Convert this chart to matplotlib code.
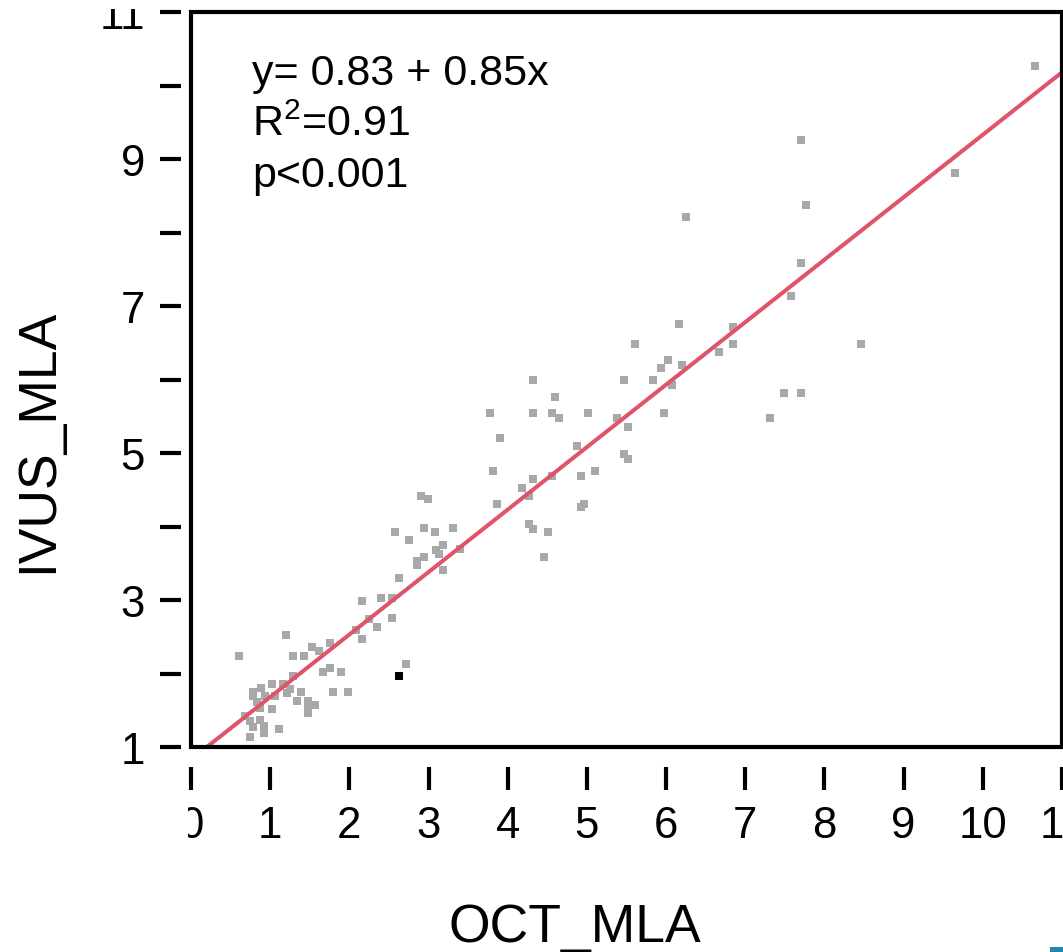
import numpy as np
import matplotlib
matplotlib.use('Agg')
import matplotlib.pyplot as plt
from matplotlib.patches import Rectangle
from matplotlib.transforms import Bbox, TransformedBbox

###############################################################################
# Data
###############################################################################
OCT_MLA = [
    0.61, 1.20, 1.29, 1.43, 1.53, 1.62, 1.76, 2.08, 2.16, 1.67,
    1.76, 1.89, 1.29, 1.02, 1.16, 0.88, 0.78, 1.25, 1.21, 1.06,
    1.39, 1.79, 1.98, 0.78, 0.93, 1.34, 1.48, 1.57, 1.48, 1.48,
    0.83, 0.87, 1.02, 0.68, 0.74, 0.87, 0.78, 0.92, 0.92, 1.11,
    0.74, 2.63, 2.71, 2.25, 2.35, 2.40, 2.54, 2.16, 2.54, 2.85,
    2.85, 2.94, 3.09, 3.13, 3.18, 3.40, 2.90, 2.99, 2.58, 2.94,
    3.08, 3.31, 2.75, 3.18, 3.78, 3.90, 3.81, 3.86, 4.32, 4.60,
    4.32, 4.56, 4.65, 5.01, 5.47, 6.02, 5.93, 6.20, 5.83, 6.07,
    5.97, 5.38, 5.52, 4.87, 5.47, 5.52, 4.32, 4.56, 4.92, 5.10,
    4.18, 4.27, 4.92, 4.96, 4.27, 4.32, 4.51, 4.46, 7.77, 6.25,
    7.71, 7.58, 6.16, 5.61, 6.84, 6.84, 6.67, 8.46, 7.49, 7.71,
    7.31, 10.66, 7.70, 9.65,
]
IVUS_MLA = [
    2.24, 2.53, 2.24, 2.24, 2.36, 2.31, 2.42, 2.59, 2.47, 2.02,
    2.08, 2.02, 1.97, 1.86, 1.86, 1.80, 1.75, 1.79, 1.74, 1.70,
    1.75, 1.75, 1.75, 1.70, 1.70, 1.63, 1.63, 1.57, 1.54, 1.46,
    1.61, 1.53, 1.52, 1.42, 1.35, 1.37, 1.27, 1.29, 1.19, 1.25,
    1.14, 3.30, 2.13, 2.74, 2.63, 3.03, 3.03, 2.98, 2.76, 3.53,
    3.47, 3.59, 3.68, 3.63, 3.41, 3.70, 4.42, 4.37, 3.93, 3.98,
    3.93, 3.98, 3.81, 3.75, 5.54, 5.20, 4.75, 4.31, 5.99, 5.76,
    5.54, 5.54, 5.48, 5.54, 5.99, 6.26, 6.15, 6.20, 5.99, 5.92,
    5.54, 5.48, 5.36, 5.09, 4.98, 4.92, 4.64, 4.69, 4.69, 4.75,
    4.53, 4.42, 4.26, 4.31, 4.04, 3.97, 3.92, 3.59, 8.37, 8.21,
    7.59, 7.14, 6.76, 6.48, 6.71, 6.48, 6.37, 6.48, 5.81, 5.81,
    5.48, 10.26, 9.26, 8.81,
]
# highlighted case (black square)
HIGHLIGHT_X = [2.63]
HIGHLIGHT_Y = [1.97]

INTERCEPT, SLOPE = 0.83, 0.85
ANNOT = ['y= 0.83 + 0.85x', 'R$^{2}$=0.91', 'p<0.001']
X_TICKS = list(range(0, 12))
Y_TICKS = list(range(1, 12))
Y_TICKLABELS = [str(v) if v % 2 == 1 else '' for v in Y_TICKS]

###############################################################################
# Style
###############################################################################
plt.rcParams['font.family'] = ['Liberation Sans', 'DejaVu Sans']
plt.rcParams['mathtext.fontset'] = 'custom'
plt.rcParams['mathtext.rm'] = 'Liberation Sans'
plt.rcParams['mathtext.it'] = 'Liberation Sans'
(W, H) = (1063, 953)
GREY = '#A8A8A8'
RED = '#DF536B'
TICK_FS = 31.5

###############################################################################
# Figure
###############################################################################
fig = plt.figure(figsize=(W/100, H/100), dpi=100)
ax = fig.add_axes([191/W, 1-748/H, (1062-191)/W, (748-13)/H])
ax.set_xlim(0, 11)
ax.set_ylim(1, 11)

# detached R-style axes ------------------------------------------------------
for side in ('top', 'right'):
    ax.spines[side].set_visible(False)
ax.spines['left'].set_position(('outward', 7.2))
ax.spines['bottom'].set_position(('outward', 14.4))
for side in ('left', 'bottom'):
    ax.spines[side].set_color('none')
ax.add_patch(Rectangle((0, 0), 1, 1, transform=ax.transAxes, fill=False,
                       edgecolor='black', linewidth=3, clip_on=False,
                       zorder=5))

ax.set_xticks(X_TICKS)
ax.set_xticklabels([str(v) for v in X_TICKS])
ax.set_yticks(Y_TICKS)
ax.set_yticklabels(Y_TICKLABELS)
ax.tick_params(axis='y', direction='out', length=15, width=3, pad=11,
               labelsize=TICK_FS)
ax.tick_params(axis='x', direction='out', length=16.5, width=3, pad=11,
               labelsize=TICK_FS)

# clip the edge labels like the cropped original -----------------------------
for t in ax.xaxis.get_major_ticks():
    if t.get_loc() == 0:
        t.label1.set_clip_box(TransformedBbox(
            Bbox.from_extents(188/W, 0, 1, 1), fig.transFigure))
        t.label1.set_clip_on(True)
for t in ax.yaxis.get_major_ticks():
    if t.get_loc() == 11:
        t.label1.set_clip_box(TransformedBbox(
            Bbox.from_extents(0, 0, 1, 1-10/H), fig.transFigure))
        t.label1.set_clip_on(True)

# points and fit --------------------------------------------------------------
ax.scatter(OCT_MLA, IVUS_MLA, marker='s', s=40, c=GREY, linewidths=0,
           zorder=2)
ax.scatter(HIGHLIGHT_X, HIGHLIGHT_Y, marker='s', s=40, c='black',
           linewidths=0, zorder=3)
xs = np.array(ax.get_xlim())
ax.plot(xs, INTERCEPT + SLOPE*xs, color=RED, linewidth=2.9, zorder=4)

# annotation ------------------------------------------------------------------
for (i, txt) in enumerate(ANNOT):
    ax.text(0.070, (748-85-51*i)/735, txt, transform=ax.transAxes,
            fontsize=31, va='baseline', ha='left')

# axis titles -----------------------------------------------------------------
fig.text(575/W, 1-942/H, 'OCT_MLA', fontsize=38.5, ha='center',
         va='baseline')
fig.text(38/W, 1-441/H, 'IVUS_MLA', fontsize=38.5, rotation=90,
         ha='center', va='center')

# fragment of neighbouring panel in the corner --------------------------------
fig.patches.append(Rectangle((1050/W, 0), 13/W, 5/H, transform=fig.transFigure,
                             facecolor='#1F88A8', edgecolor='none'))

fig.savefig('out.png', dpi=100)
